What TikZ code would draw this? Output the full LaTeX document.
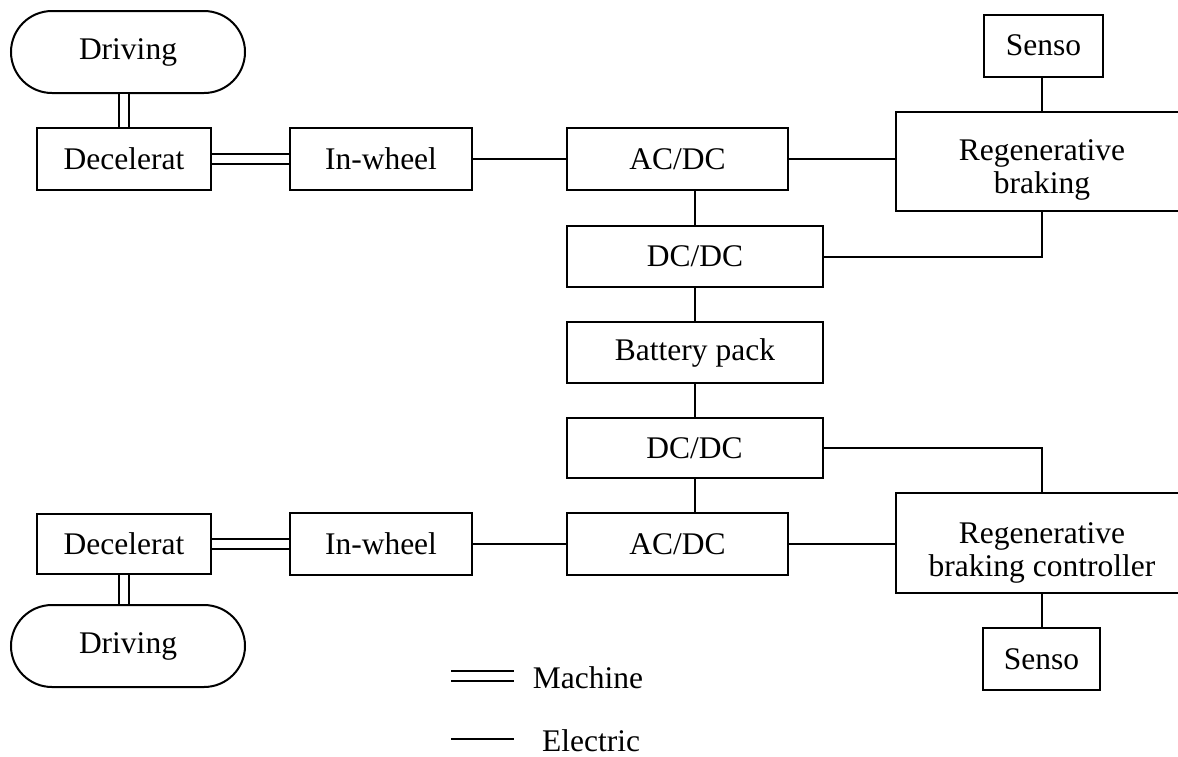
\documentclass[tikz,border=0pt]{standalone}
\usepackage{fontspec}
\setmainfont{Liberation Serif}
\usetikzlibrary{positioning}

\tikzset{
  blk/.style = {rectangle, draw, inner sep = 0pt, align = center,
                font = \fontsize{15.75}{16.5}\selectfont},
  txt/.style = {inner sep = 0pt, align = center,
                font = \fontsize{15.75}{16.5}\selectfont},
  mech/.style = {draw, double, line width = 0.9pt, double distance = 4pt},
  elec/.style = {draw, line width = 1pt}
}

\begin{document}
\begin{tikzpicture}[x=0.5pt, y=-0.5pt, line width=1pt]

    \clip (0,0) rectangle (1178,756);

    % upper wheel
    \node[blk,
          rounded corners = 20.5pt,
          minimum width = 117pt,
          minimum height = 41pt
          ] (drvA) at (128,52) {Driving};

    \node[blk,
          minimum width = 87pt,
          minimum height = 31pt
          ] (decA) at (124,159) {Decelerat};

    \node[blk,
          minimum width = 91pt,
          minimum height = 31pt
          ] (iwA) at (381,159) {In-wheel};

    \node[blk,
          minimum width = 110.5pt,
          minimum height = 31pt
          ] (acA) at (677.5,159) {AC/DC};

    \node[blk,
          minimum width = 59.5pt,
          minimum height = 31pt
          ] (senA) at (1043.5,45.5) {Senso};

    \node[blk,
          minimum width = 146pt,
          minimum height = 49.5pt
          ] (regA) at (1042,161) {};
    \node[txt] (regAlbl) at ([yshift=-4.5pt]regA.center) {Regenerative\\braking};

    \node[blk,
          minimum width = 128pt,
          minimum height = 30.5pt
          ] (dcA) at (695,256.5) {DC/DC};

    % battery
    \node[blk,
          minimum width = 128pt,
          minimum height = 30.5pt
          ] (bat) at (695,352.5) {Battery pack};

    % lower wheel
    \node[blk,
          minimum width = 128pt,
          minimum height = 30pt
          ] (dcB) at (694.5,448) {DC/DC};

    \node[blk,
          minimum width = 110.5pt,
          minimum height = 31pt
          ] (acB) at (677.5,544) {AC/DC};

    \node[blk,
          minimum width = 91pt,
          minimum height = 31pt
          ] (iwB) at (381,544) {In-wheel};

    \node[blk,
          minimum width = 87pt,
          minimum height = 30pt
          ] (decB) at (124,544) {Decelerat};

    \node[blk,
          rounded corners = 20.5pt,
          minimum width = 117pt,
          minimum height = 41pt
          ] (drvB) at (128,646) {Driving};

    \node[blk,
          minimum width = 146pt,
          minimum height = 50pt
          ] (regB) at (1042,543) {};
    \node[txt] (regBlbl) at ([yshift=-5pt]regB.center) {Regenerative\\braking controller};

    \node[blk,
          minimum width = 58.5pt,
          minimum height = 31pt
          ] (senB) at (1041.5,659) {Senso};

    % legend
    \coordinate (mchL) at (451,676);
    \coordinate (mchR) at (514,676);
    \coordinate (eleL) at (451,739);
    \coordinate (eleR) at (514,739);
    \node[txt] (mchT) at (588,678) {Machine};
    \node[txt] (eleT) at (591,741) {Electric};

    %machine links
    \path
    (decA.north) edge[mech] (decA.north |- drvA.south)
    (decA) edge[mech] (iwA)
    (decB.south) edge[mech] (decB.south |- drvB.north)
    (decB) edge[mech] (iwB)
    (mchL) edge[mech] (mchR);

    %electric links
    \path
    (iwA) edge[elec] (acA)
    (acA.east) edge[elec] (acA.east -| regA.west)
    (regA.north) edge[elec] (regA.north |- senA.south)
    (dcA.north) edge[elec] (dcA.north |- acA.south)
    (bat.north) edge[elec] (bat.north |- dcA.south)
    (dcB.north) edge[elec] (dcB.north |- bat.south)
    (dcB.south) edge[elec] (dcB.south |- acB.north)
    (iwB) edge[elec] (acB)
    (acB.east) edge[elec] (acB.east -| regB.west)
    (regB.south) edge[elec] (regB.south |- senB.north)
    (eleL) edge[elec] (eleR);

    \draw[elec] (regA.south) |- (dcA.east);
    \draw[elec] (dcB.east) -| (regB.north);

\end{tikzpicture}
\end{document}
